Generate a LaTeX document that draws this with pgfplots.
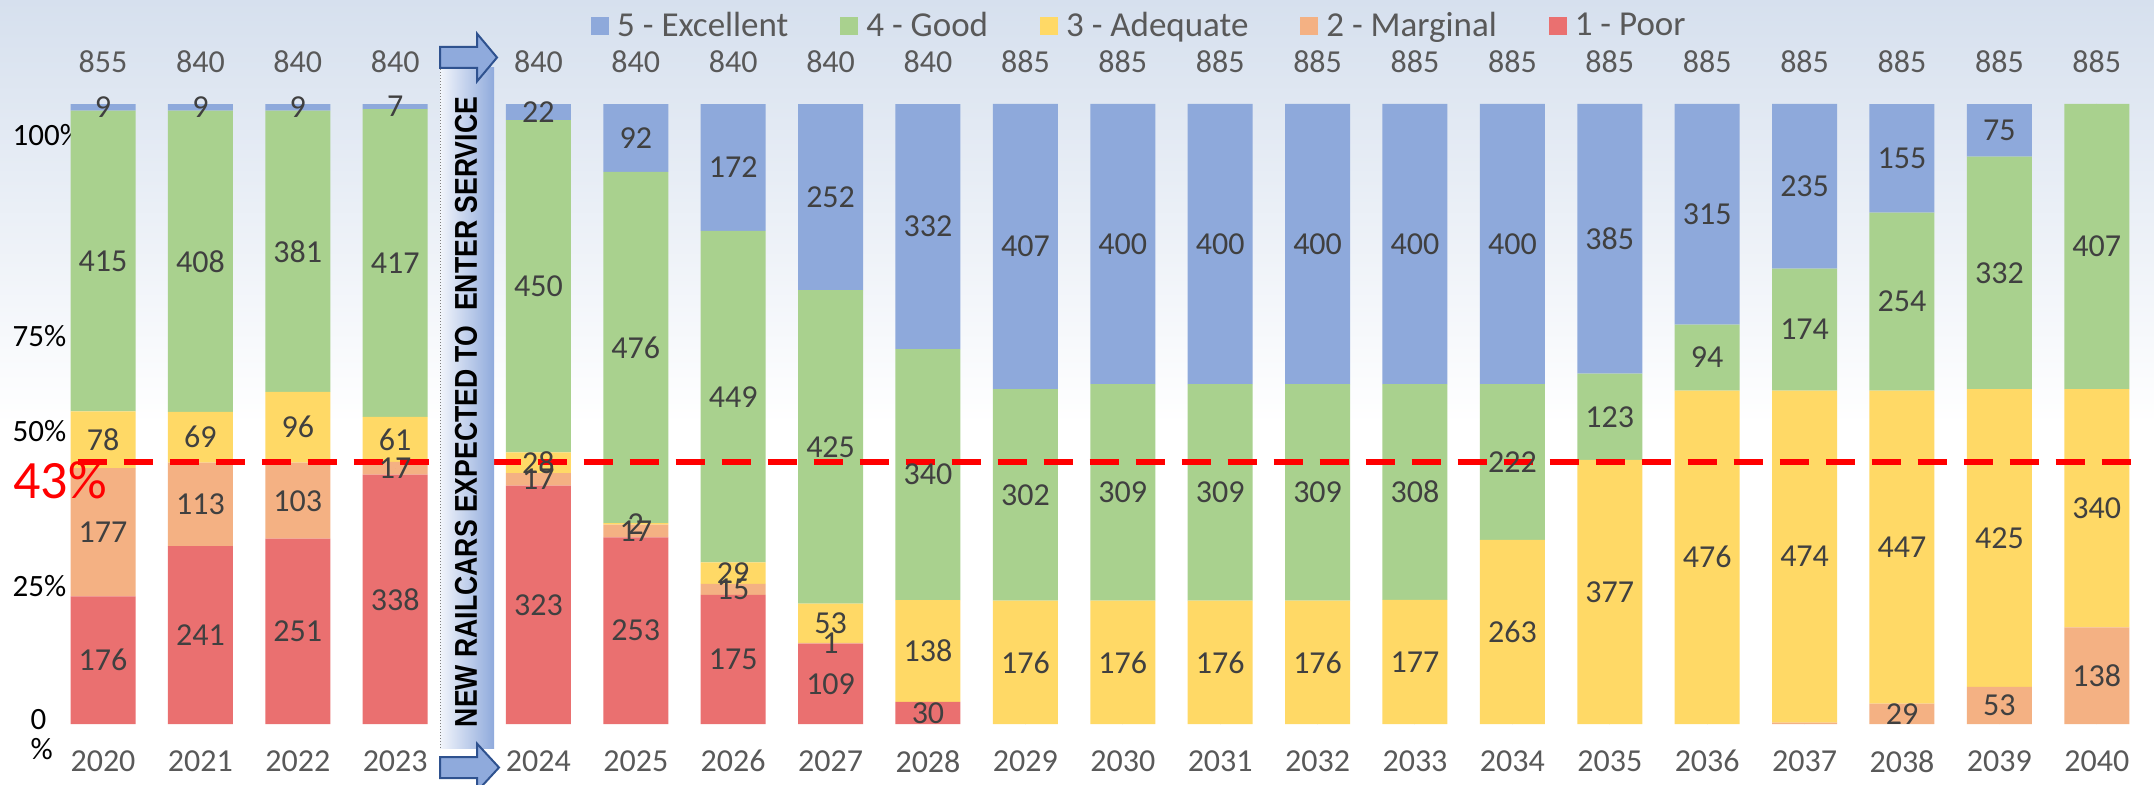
\documentclass[border=0pt]{standalone}
\usepackage{pgfplots}
\pgfplotsset{compat=1.18}
\usepackage{pgfplotstable}
\usepackage{graphicx}
\usepackage{fontspec}
\setmainfont{Carlito}
\newfontfamily\arialfont{Liberation Sans}

\definecolor{cExc}{HTML}{8EA9DB}
\definecolor{cGood}{HTML}{A9D18E}
\definecolor{cAdeq}{HTML}{FFD966}
\definecolor{cMarg}{HTML}{F4B183}
\definecolor{cPoor}{HTML}{EA7070}
\definecolor{lab}{HTML}{404040}
\definecolor{gtxt}{HTML}{595959}
\definecolor{bgtop}{HTML}{D6E0EE}
\definecolor{arrowblue}{HTML}{8FAADC}
\definecolor{arrowline}{HTML}{2F528F}
\definecolor{bandleft}{HTML}{F2F5FB}

\pgfplotstableread{
x     yr   poor marg adeq good exc tot
0     2020 176  177  78   415  9   855
1     2021 241  113  69   408  9   840
2     2022 251  103  96   381  9   840
3     2023 338  17   61   417  7   840
4.47  2024 323  17   28   450  22  840
5.47  2025 253  17   2    476  92  840
6.47  2026 175  15   29   449  172 840
7.47  2027 109  1    53   425  252 840
8.47  2028 30   0    138  340  332 840
9.47  2029 0    0    176  302  407 885
10.47 2030 0    0    176  309  400 885
11.47 2031 0    0    176  309  400 885
12.47 2032 0    0    176  309  400 885
13.47 2033 0    0    177  308  400 885
14.47 2034 0    0    263  222  400 885
15.47 2035 0    0    377  123  385 885
16.47 2036 0    0    476  94   315 885
17.47 2037 0    2    474  174  235 885
18.47 2038 0    29   447  254  155 885
19.47 2039 0    53   425  332  75  885
20.47 2040 0    138  340  407  0   885
}\data

\pgfplotsset{
  chartframe/.style={
    x=48.7pt, y=3.1pt, xmin=-1, xmax=20.85, ymin=-6, ymax=110,
    at={(2.8pt,11.4pt)}, anchor=south west, clip=false,
  },
  lbl/.style={
    only marks, mark=*, mark size=0pt, mark options={draw=none,fill=none},
    nodes near coords={\ifnum\pgfplotspointmeta>0 \pgfplotspointmeta\fi},
    point meta=explicit symbolic,
    every node near coord/.append style={anchor=center, inner sep=0pt,
      font=\fontsize{16}{16}\selectfont, text=lab},
  },
}

\begin{document}
\begin{tikzpicture}
% background
\shade[top color=bgtop, bottom color=white] (0pt,180pt) rectangle (1077pt,392pt);
\fill[white] (0pt,0pt) rectangle (1077pt,180pt);

\begin{axis}[chartframe,
  ybar stacked, bar width=32.5pt,
  axis line style={draw=none}, tick style={draw=none},
  xtick={0,1,2,3,4.47,5.47,6.47,7.47,8.47,9.47,10.47,11.47,12.47,13.47,14.47,15.47,16.47,17.47,18.47,19.47,20.47},
  xticklabels={2020,2021,2022,2023,2024,2025,2026,2027,2028,2029,2030,2031,2032,2033,2034,2035,2036,2037,2038,2039,2040},
  xticklabel style={anchor=center, font=\fontsize{16}{16}\selectfont, text=gtxt},
  ytick={-1.77,22.3,47.3,62.6,95.0},
  yticklabels={{\hspace*{9pt}0\\\hspace*{9pt}\%},{25\%},{50\%},{75\%},{100\%}},
  yticklabel style={anchor=west, align=left, font=\fontsize{15.5}{15}\selectfont, text=black},
  legend columns=5, reverse legend, legend cell align=left,
  legend image code/.code={\fill[#1, draw=none] (0pt,-4.5pt) rectangle (9pt,4.5pt); \path (13pt,0pt);},
  legend style={at={(axis description cs:0.2750,1.0222)}, anchor=west,
    draw=none, fill=none, inner sep=0pt,
    nodes={inner sep=0pt},
    font=\fontsize{17.5}{17.5}\selectfont, text=gtxt,
    /tikz/every even column/.append style={column sep=26pt}},
]
\addplot[fill=cPoor, draw=none] table[x=x, y expr=\thisrow{poor}/\thisrow{tot}*100]{\data};
\addplot[fill=cMarg, draw=none] table[x=x, y expr=\thisrow{marg}/\thisrow{tot}*100]{\data};
\addplot[fill=cAdeq, draw=none] table[x=x, y expr=\thisrow{adeq}/\thisrow{tot}*100]{\data};
\addplot[fill=cGood, draw=none] table[x=x, y expr=\thisrow{good}/\thisrow{tot}*100]{\data};
\addplot[fill=cExc, draw=none] table[x=x, y expr=\thisrow{exc}/\thisrow{tot}*100]{\data};
\legend{1 - Poor, 2 - Marginal, 3 - Adequate, 4 - Good, 5 - Excellent}
\end{axis}

\begin{axis}[chartframe, hide axis]
% 43% reference line
\addplot[red, line width=3pt, dash pattern=on 14.5pt off 8.5pt] coordinates {(-0.26,42.3) (20.83,42.3)};
% segment labels
\addplot[lbl] table[x=x, y expr=0.5*\thisrow{poor}/\thisrow{tot}*100, meta=poor]{\data};
\addplot[lbl, skip coords between index={17}{18}] table[x=x, y expr=(\thisrow{poor}+0.5*\thisrow{marg})/\thisrow{tot}*100, meta=marg]{\data};
\addplot[lbl] table[x=x, y expr=(\thisrow{poor}+\thisrow{marg}+0.5*\thisrow{adeq})/\thisrow{tot}*100, meta=adeq]{\data};
\addplot[lbl] table[x=x, y expr=(\thisrow{poor}+\thisrow{marg}+\thisrow{adeq}+0.5*\thisrow{good})/\thisrow{tot}*100, meta=good]{\data};
\addplot[lbl] table[x=x, y expr=(\thisrow{tot}-0.5*\thisrow{exc})/\thisrow{tot}*100, meta=exc]{\data};
% totals
\addplot[lbl, every node near coord/.append style={text=gtxt, font=\fontsize{16}{16}\selectfont}] table[x=x, y expr=106.9, meta=tot]{\data};
\end{axis}

\node[anchor=west, inner sep=0pt, text=red, font=\fontsize{27}{27}\selectfont] at (6.5pt,152pt) {43\%};

% band with arrows
\shade[left color=bandleft, right color=arrowblue] (220pt,18pt) rectangle (247pt,358pt);
\draw[gray, densely dotted, line width=0.5pt] (220pt,18pt) -- (220pt,358pt);
\draw[arrowline, line width=1pt, fill=arrowblue]
  (220pt,358pt) -- (220pt,368.5pt) -- (238.5pt,368.5pt) -- (238.5pt,375.2pt)
  -- (248.5pt,363.25pt) -- (238.5pt,351.3pt) -- (238.5pt,358pt) -- cycle;
\draw[arrowline, line width=1pt, fill=arrowblue]
  (220pt,3pt) -- (220pt,13.5pt) -- (238.5pt,13.5pt) -- (238.5pt,20.2pt)
  -- (249.5pt,8.25pt) -- (238.5pt,-3.7pt) -- (238.5pt,3pt) -- cycle;
\node[rotate=90, inner sep=0pt] at (233pt,186pt)
  {\resizebox{315pt}{11pt}{\arialfont\bfseries NEW RAILCARS EXPECTED TO\ \ ENTER SERVICE}};

\pgfresetboundingbox
\useasboundingbox (0pt,0pt) rectangle (1077pt,392pt);
\end{tikzpicture}
\end{document}
